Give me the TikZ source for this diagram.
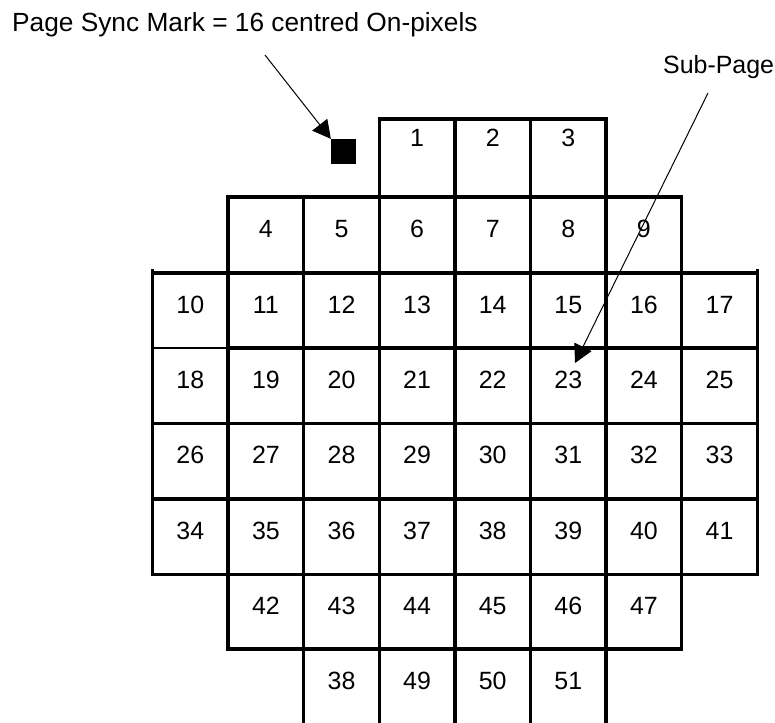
\documentclass[tikz,border=0pt]{standalone}
\usepackage{fontspec}
\setmainfont{Liberation Sans}
\usetikzlibrary{arrows.meta}

\begin{document}
\begin{tikzpicture}[x=0.5mm,y=-0.5mm]
    % ink colour and line styles
    \definecolor{ink}{RGB}{0,0,0}
    \tikzstyle{every node}=[font=\fontsize{35.5}{42}\selectfont, text=ink, inner sep=0pt]
    \tikzstyle{cellLine}=[line width=1.75mm, draw=ink, line cap=rect]
    \tikzstyle{thinLine}=[line width=1mm, draw=ink]
    \tikzstyle{pointer}=[line width=0.5mm, draw=ink, -{Triangle[length=9mm,width=9.5mm]}]

    \useasboundingbox (0,0) rectangle (775,722);

    % horizontal cell edges
    \draw[cellLine] (379.3,119) -- (606.1,119);
    \draw[cellLine] (228.1,197) -- (681.7,197);
    \foreach \y in {273,423.5,499,574.5}{
      \draw[cellLine] (152.5,\y) -- (757.3,\y);
    }
    \draw[thinLine] (152.5,348) -- (228.1,348);
    \draw[cellLine] (228.1,348) -- (757.3,348);
    \draw[cellLine] (228.1,649) -- (681.7,649);

    % vertical cell edges
    \foreach \x in {152.5,757.3}{
      \draw[cellLine] (\x,271) -- (\x,574.5);
    }
    \foreach \x in {228.1,681.7}{
      \draw[cellLine] (\x,197) -- (\x,649);
    }
    \draw[cellLine] (303.7,197) -- (303.7,722);
    \foreach \x in {379.3,454.9,530.5,606.1}{
      \draw[cellLine] (\x,119) -- (\x,722);
    }

    % sub-page numbers, row by row (first/last/start column/baseline)
    \foreach \n in {1,2,3}{
      \node[anchor=base] (cell\n) at ({152.5+75.6*(\n+2.5)},146) {\n};
    }
    \foreach \first/\last/\col/\base in {4/9/1/237,10/17/0/313,18/25/0/388,26/33/0/463.5,34/41/0/539,42/47/1/614}{
      \foreach \n in {\first,...,\last}{
        \node[anchor=base] (cell\n) at ({152.5+75.6*(\n-\first+\col+0.5)},\base) {\n};
      }
    }
    \foreach \n/\m [count=\k from 2] in {38/48,49/49,50/50,51/51}{
      \node[anchor=base] (cell\m) at ({152.5+75.6*(\k+0.5)},689) {\n};
    }

    % page sync mark and its label
    \node[fill=ink, minimum size=12.5mm] (syncMark) at (343.5,151.5) {};
    \node[anchor=base west, font=\fontsize{37.4}{44}\selectfont] (syncLabel) at (12,31) {Page Sync Mark = 16 centred On-pixels};
    \coordinate (syncTail) at (265,55);
    \draw[pointer] (syncTail) -- (syncMark.north west);

    % sub-page label
    \node[anchor=base west] (subLabel) at (663,73) {Sub-Page};
    \coordinate (subTail) at (708,93);
    \coordinate (subTip) at (575,363);
    \draw[pointer] (subTail) -- (subTip);

\end{tikzpicture}
\end{document}
